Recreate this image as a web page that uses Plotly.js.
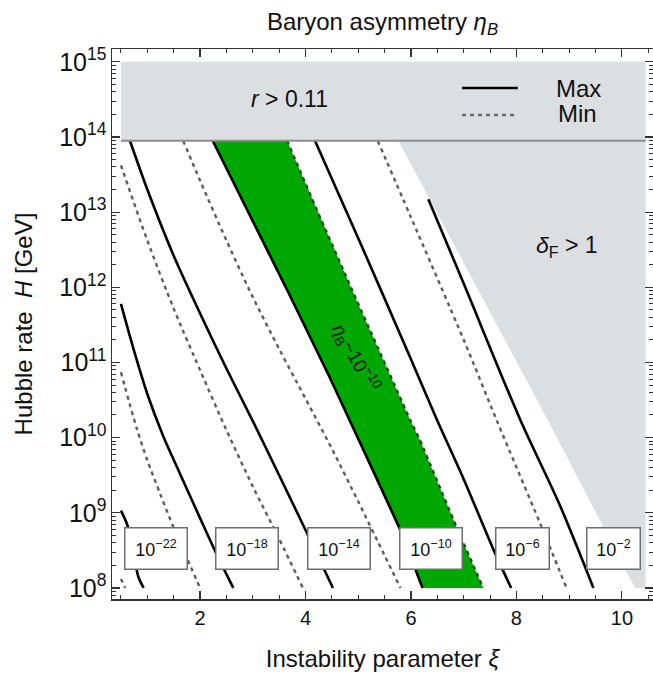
<!DOCTYPE html>
<html><head><meta charset="utf-8">
<script src="https://cdn.plot.ly/plotly-3.0.1.min.js"></script>
<style>html,body{margin:0;padding:0;overflow:hidden;background:#fff}</style>
</head><body><div id="chart" style="width:653px;height:681px"></div>
<script>
// ---- data (xi = instability parameter, H = Hubble rate in GeV) ----
// Max curves (solid) and Min curves (dashed) for each eta value
const xi_max_22 = [0.5, 0.62, 0.83, 0.93];
const H_max_22  = [1.07e9, 6.9e8, 1.41e8, 1.0e8];
const xi_min_26 = [0.5, 0.58];
const H_min_26  = [1.32e8, 1.0e8];
const xi_min_22 = [0.5, 0.8, 1.0, 1.25, 1.5, 1.75, 2.0];
const H_min_22  = [7.4e10, 1.32e10, 5.0e9, 1.74e9, 6.3e8, 2.5e8, 1.0e8];
const xi_max_18 = [0.5, 0.75, 1.0, 1.3, 1.6, 2.0, 2.3, 2.63];
const H_max_18  = [6.0e11, 1.41e11, 3.8e10, 1.05e10, 3.55e9, 8.5e8, 2.95e8, 1.0e8];
const xi_min_18 = [0.5, 1.0, 1.5, 2.0, 2.5, 3.0, 3.5, 3.95];
const H_min_18  = [4.2e13, 4.2e12, 5.2e11, 7.9e10, 1.26e10, 2.24e9, 4.5e8, 1.0e8];
const xi_max_14 = [0.67, 1.0, 1.5, 2.0, 2.5, 3.0, 3.5, 4.0, 4.52];
const H_max_14  = [8.9e13, 2.0e13, 2.63e12, 4.5e11, 8.3e10, 1.66e10, 3.16e9, 5.9e8, 1.0e8];
const xi_min_14 = [1.68, 2.0, 2.5, 3.0, 3.5, 4.0, 4.5, 5.0, 5.5, 5.8];
const H_min_14  = [8.9e13, 2.63e13, 4.2e12, 7.4e11, 1.51e11, 3.3e10, 7.1e9, 1.41e9, 2.7e8, 1.0e8];
const xi_max_10 = [2.24, 3.0, 3.71, 4.46, 4.84, 5.3, 5.78, 6.22];
const H_max_10  = [8.9e13, 7.6e12, 7.6e11, 6.3e10, 1.7e10, 3.4e9, 6.3e8, 1.0e8];
const xi_min_10 = [3.65, 4.27, 5.0, 5.98, 6.17, 6.87, 7.37];
const H_min_10  = [8.9e13, 8.7e12, 6.0e11, 1.74e10, 9.3e9, 6.3e8, 1.0e8];
const xi_max_6 = [4.18, 5.0, 6.0, 6.49, 7.0, 7.59, 7.9];
const H_max_6  = [8.9e13, 4.5e12, 1.1e11, 1.74e10, 2.8e9, 2.95e8, 1.0e8];
const xi_min_6 = [5.37, 6.0, 7.0, 7.62, 8.45, 8.95];
const H_min_6  = [8.9e13, 8.5e12, 2.0e11, 1.74e10, 7.2e8, 1.0e8];
const xi_max_2 = [6.33, 7.0, 8.07, 8.83, 9.46];
const H_max_2  = [1.48e13, 1.12e12, 1.74e10, 1.23e9, 1.0e8];

// excluded regions
const xi_r   = [0.5, 10.45, 10.45, 0.5];          // r > 0.11
const H_r    = [8.9e13, 8.9e13, 1.0e15, 1.0e15];
const xi_dF  = [5.76, 10.45, 10.45, 10.25, 8.62];  // delta_F > 1
const H_dF   = [8.9e13, 8.9e13, 1.0e8, 1.0e8, 1.58e10];
const xi_rline = [0.5, 10.45];
const H_rline  = [8.9e13, 8.9e13];

// label boxes
const lab_text = ["10<sup>−22</sup>", "10<sup>−18</sup>", "10<sup>−14</sup>", "10<sup>−10</sup>", "10<sup>−6</sup>", "10<sup>−2</sup>"];
const lab_xi   = [1.16, 2.89, 4.64, 6.38, 8.11, 9.85];
const lab_logH = [8.52, 8.52, 8.52, 8.52, 8.52, 8.52];
const lab_w    = [57, 57, 57, 57, 48, 48];

const FONT = "Liberation Sans, Arial, Helvetica, sans-serif";
const GRAY = "#dcdfe1";
const GREEN = "#00a700";

const traces = [];
function fillPoly(x, y, color) {
  traces.push({x: x, y: y, type: "scatter", mode: "lines", fill: "toself",
    fillcolor: color, line: {width: 0, color: color},
    hoverinfo: "skip", showlegend: false});
}
fillPoly(xi_r, H_r, GRAY);
fillPoly(xi_dF, H_dF, GRAY);
// green band: region between Max and Min curves of eta_B = 1e-10
fillPoly(xi_max_10.concat(xi_min_10.slice().reverse()), H_max_10.concat(H_min_10.slice().reverse()), GREEN);

function solid(x, y, shape) {
  traces.push({x: x, y: y, type: "scatter", mode: "lines",
    line: {color: "#000", width: 2.6, shape: shape || "spline", smoothing: 0.8},
    hoverinfo: "skip", showlegend: false});
}
function dashed(x, y, c, shape) {
  traces.push({x: x, y: y, type: "scatter", mode: "lines",
    line: {color: c || "#5e5e5e", width: 2.4, dash: "4px,4px", shape: shape || "spline", smoothing: 0.8},
    hoverinfo: "skip", showlegend: false});
}
dashed(xi_min_26, H_min_26);
solid(xi_max_22, H_max_22); dashed(xi_min_22, H_min_22);
solid(xi_max_18, H_max_18); dashed(xi_min_18, H_min_18);
solid(xi_max_14, H_max_14); dashed(xi_min_14, H_min_14);
solid(xi_max_10, H_max_10, "linear"); dashed(xi_min_10, H_min_10, "#1c4d1c", "linear");
solid(xi_max_6, H_max_6);   dashed(xi_min_6, H_min_6);
solid(xi_max_2, H_max_2);
traces.push({x: xi_rline, y: H_rline, type: "scatter", mode: "lines",
  line: {color: "#8c8c8c", width: 2}, hoverinfo: "skip", showlegend: false});

const annotations = [];
for (let i = 0; i < lab_text.length; i++) {
  annotations.push({x: lab_xi[i], y: lab_logH[i], xref: "x", yref: "y", text: lab_text[i],
    showarrow: false, xanchor: "center", yanchor: "middle",
    font: {family: FONT, size: 18, color: "#111"},
    bgcolor: "#fff", bordercolor: "#6e6e6e", borderwidth: 1.5, borderpad: 2,
    width: lab_w[i], height: 36, align: "center", valign: "middle"});
}
annotations.push({x: 3.7, y: 14.5, xref: "x", yref: "y", text: "<i>r</i> > 0.11", showarrow: false,
  xanchor: "center", yanchor: "middle", font: {family: FONT, size: 23, color: "#111"}});
annotations.push({x: 8.96, y: 12.54, xref: "x", yref: "y", text: "<i>δ</i><sub>F</sub> > 1", showarrow: false,
  xanchor: "center", yanchor: "middle", font: {family: FONT, size: 23, color: "#111"}});
annotations.push({x: 4.94, y: 11.06, xref: "x", yref: "y", text: "<i>η</i><sub>B</sub>~10<sup>−10</sup>", showarrow: false,
  xanchor: "center", yanchor: "middle", textangle: 61, font: {family: FONT, size: 19, color: "#111"}});
// legend
annotations.push({x: 0.863, y: 0.929, xref: "paper", yref: "paper", text: "Max", showarrow: false,
  xanchor: "center", yanchor: "middle", font: {family: FONT, size: 24, color: "#111"}});
annotations.push({x: 0.861, y: 0.883, xref: "paper", yref: "paper", text: "Min", showarrow: false,
  xanchor: "center", yanchor: "middle", font: {family: FONT, size: 24, color: "#111"}});

const shapes = [
  {type: "line", xref: "paper", yref: "paper", x0: 0.647, x1: 0.750, y0: 0.929, y1: 0.929,
   line: {color: "#000", width: 2.6}},
  {type: "line", xref: "paper", yref: "paper", x0: 0.647, x1: 0.750, y0: 0.880, y1: 0.880,
   line: {color: "#6a6a6a", width: 2.4, dash: "4px,4px"}}
];

const axisCommon = {
  showline: true, linecolor: "#333", linewidth: 1.5, mirror: "allticks",
  ticks: "inside", ticklen: 8, tickwidth: 1.2, tickcolor: "#333",
  showgrid: false, zeroline: false,
  tickfont: {family: FONT, size: 20, color: "#111"}
};

const layout = {
  width: 653, height: 681,
  margin: {l: 112, r: 0, t: 49, b: 82},
  paper_bgcolor: "#fff", plot_bgcolor: "#fff",
  showlegend: false,
  title: {text: "Baryon asymmetry <i>η<sub>B</sub></i>", font: {family: FONT, size: 24, color: "#111"},
    x: 0.5, xref: "paper", y: 0.968, yref: "container", yanchor: "middle"},
  xaxis: Object.assign({}, axisCommon, {
    range: [0.33, 10.59], dtick: 2, tick0: 0,
    minor: {dtick: 0.5, ticks: "inside", ticklen: 4, tickcolor: "#333", tickwidth: 1},
    title: {text: "Instability parameter <i>ξ</i>", font: {family: FONT, size: 24, color: "#111"}, standoff: 22}
  }),
  yaxis: Object.assign({}, axisCommon, {
    type: "log", range: [7.853, 15.17], dtick: 1, exponentformat: "power", showexponent: "all",
    minor: {dtick: "D1", ticks: "inside", ticklen: 4, tickcolor: "#333", tickwidth: 1},
    title: {text: "Hubble rate&nbsp;&nbsp;<i>H</i> [GeV]", font: {family: FONT, size: 24, color: "#111"}, standoff: 20}
  }),
  annotations: annotations,
  shapes: shapes
};

Plotly.newPlot("chart", traces, layout, {displayModeBar: false, staticPlot: true});
</script></body></html>
